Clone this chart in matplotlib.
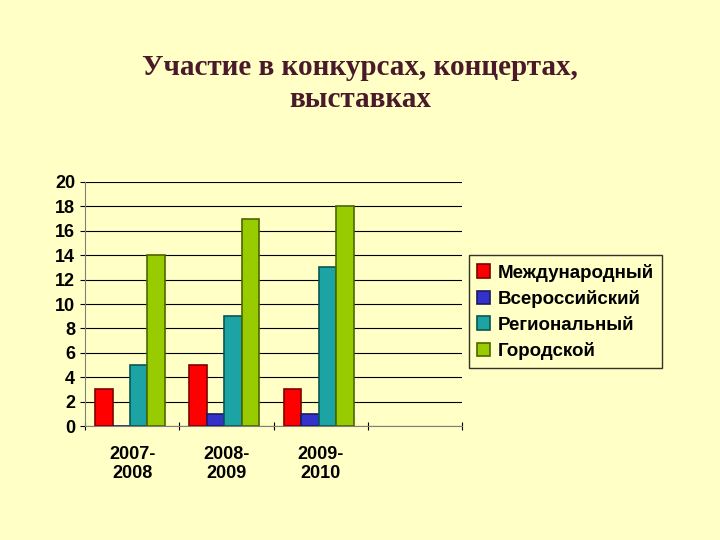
import numpy as np
import matplotlib.pyplot as plt

categories = ["2007-\n2008", "2008-\n2009", "2009-\n2010", ""]
series_names = ["Международный", "Всероссийский", "Региональный", "Городской"]
intl = [3, 5, 3, 0]
russia = [0, 1, 1, 0]
region = [5, 9, 13, 0]
city = [14, 17, 18, 0]
yticks = list(range(0, 21, 2))

bg = "#FFFFC6"
colors = ["#FF0000", "#3333CC", "#1CA3A3", "#99CC00"]
edges = ["#800000", "#1a1a66", "#0a5555", "#4d6600"]

fig = plt.figure(figsize=(7.2, 5.4), dpi=100, facecolor=bg)
ax = fig.add_axes([0.118, 0.211, 0.524, 0.452], facecolor=bg)

x = np.arange(len(categories))
w = 0.185
offs = [-0.3, -0.115, 0.07, 0.255]
for i, vals in enumerate([intl, russia, region, city]):
    ax.bar(x[:3] + offs[i], vals[:3], width=w, color=colors[i],
           edgecolor=edges[i], linewidth=1.2, label=series_names[i], zorder=3)

ax.set_xlim(-0.5, 3.5)
ax.set_ylim(0, 20)
ax.set_yticks(yticks)
ax.yaxis.grid(True, color="black", linewidth=0.8, zorder=0)
ax.set_xticks([-0.5, 0.5, 1.5, 2.5, 3.5])
ax.set_xticklabels([])
ax.set_xticks(x[:3], categories[:3], minor=True)
ax.tick_params(axis="x", which="minor", length=0, pad=14)
ax.tick_params(axis="x", which="major", length=6, direction="inout")
for lab in ax.get_xticklabels(minor=True) + ax.get_yticklabels():
    lab.set_fontweight("bold")
    lab.set_fontsize(13)
    lab.set_family("Liberation Sans")
for s in ["top", "right"]:
    ax.spines[s].set_visible(False)
ax.spines["left"].set_color("#808080")
ax.spines["bottom"].set_color("#808080")

leg = fig.legend(loc="upper left", bbox_to_anchor=(0.638, 0.545),
                 prop={"family": "Liberation Sans", "weight": "bold", "size": 13.5},
                 frameon=True, fancybox=False, edgecolor="black",
                 facecolor=bg, handlelength=0.7, handleheight=0.7,
                 borderpad=0.45, labelspacing=0.45, handletextpad=0.4)
leg.get_frame().set_linewidth(1.0)

fig.text(0.5, 0.845, "Участие в конкурсах, концертах,\nвыставках",
         ha="center", va="center", fontsize=21, fontweight="bold",
         family="Liberation Serif", color="#4a1a2a", linespacing=1.25)

fig.savefig("out.png", dpi=100, facecolor=bg)
